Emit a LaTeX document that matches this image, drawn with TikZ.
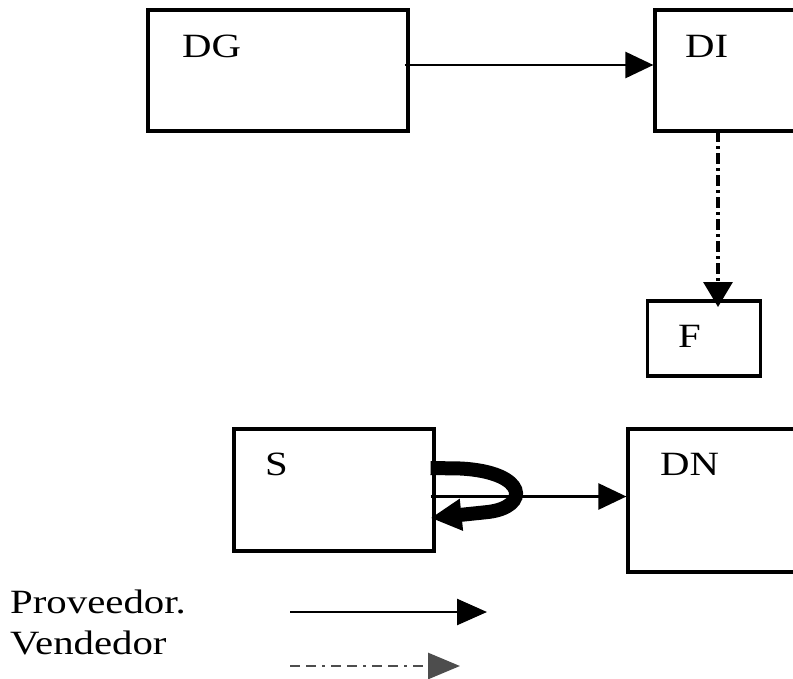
\documentclass[tikz,border=0pt]{standalone}
\usepackage{fontspec}
\setmainfont{Liberation Serif}[FakeStretch=1.2]
\usetikzlibrary{arrows.meta,calc}
\definecolor{legendgray}{HTML}{4D4D4D}
\begin{document}
\begin{tikzpicture}[x=1pt,y=-1pt,
  box/.style={draw,line width=3.2pt,inner sep=0pt},
  lbl/.style={font=\fontsize{34}{34}\selectfont,anchor=base west,inner sep=0pt},
  prov/.style={line width=2.6pt,-{Triangle[length=28pt,width=26pt]}},
  vend/.style={line width=3.2pt,dash pattern=on 11pt off 4pt on 3pt off 4pt,-{Triangle[length=25pt,width=29pt]}},
  loop/.style={line width=14pt,-{Triangle[length=31pt,width=30pt]}}]
\useasboundingbox (0,0) rectangle (793,678);
% boxes
\node[box,minimum width=260pt,minimum height=121pt] (DG) at (278,70.5) {};
\node[box,minimum width=180pt,minimum height=121pt] (DI) at (745,70.5) {};
\node[box,minimum width=113pt,minimum height=75pt] (F) at (704,338.5) {};
\node[box,minimum width=200pt,minimum height=122pt] (S) at (334,490) {};
\node[box,minimum width=224pt,minimum height=143pt] (DN) at (740,500.5) {};
% labels
\node[lbl] (tDG) at (182,57) {DG};
\node[lbl] (tDI) at (685,57) {DI};
\node[lbl] (tF) at (678,347) {F};
\node[lbl] (tS) at (265,475) {S};
\node[lbl] (tDN) at (660,475) {DN};
\node[lbl] (tP) at (10,613) {Proveedor.};
\node[lbl] (tV) at (10,654) {Vendedor};
% connectors
\coordinate (a1) at ($(DG.east)+(-5,-5.5)$);
\draw[prov] (a1) -- (a1 -| DI.west);
\coordinate (b1) at (718,131);
\draw[vend] (b1) -- (718,307);
\coordinate (c1) at ($(S.east)+(-5,6.5)$);
\draw[prov] (c1) -- (c1 -| DN.west);
\coordinate (l1) at ($(S.east)+(-5,-22)$);
\coordinate (l2) at ($(S.east)+(-5,28)$);
\draw[loop] (l1) -- ++(30,0.5) .. controls (528,472) and (530,507) .. (488,512) -- (l2);
% legend
\coordinate (p1) at (290,612);
\coordinate (p2) at (487,612);
\draw[prov,-{Triangle[length=30pt,width=26pt]}] (p1) -- (p2);
\coordinate (v1) at (290,666);
\coordinate (v2) at (460,666);
\draw[vend,legendgray,line width=2.8pt,dash pattern=on 10pt off 6pt on 10pt off 6pt on 3pt off 6pt,-{Triangle[length=32pt,width=26pt]}] (v1) -- (v2);
\end{tikzpicture}
\end{document}
